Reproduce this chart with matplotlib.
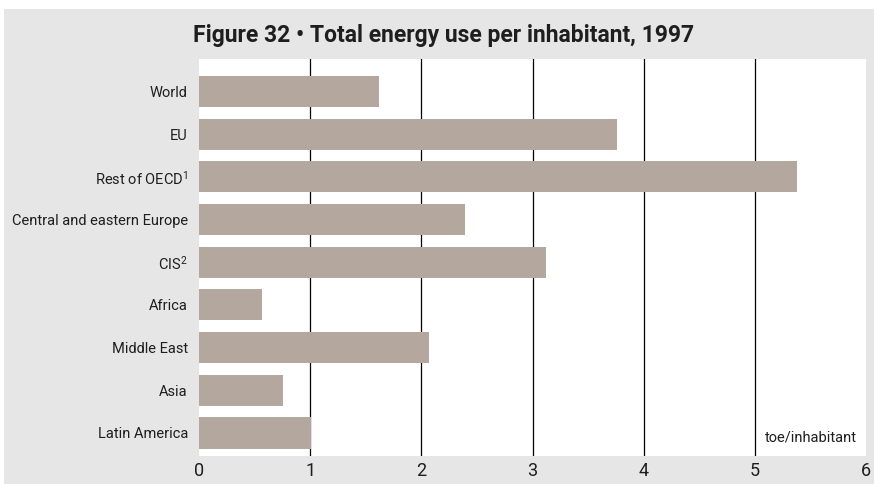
import matplotlib
matplotlib.use("Agg")
import matplotlib.pyplot as plt
from matplotlib.patches import Rectangle

plt.rcParams['font.family'] = ['Roboto', 'DejaVu Sans']
plt.rcParams['mathtext.default'] = 'regular'

regions = ["World", "EU", "Rest of OECD$^{1}$", "Central and eastern Europe",
           "CIS$^{2}$", "Africa", "Middle East", "Asia", "Latin America"]
toe_per_inhabitant = [1.62, 3.76, 5.38, 2.39, 3.12, 0.57, 2.07, 0.76, 1.01]
x_ticks = [0, 1, 2, 3, 4, 5, 6]

BAR_COLOR = "#b3a79e"
PANEL = "#e6e6e6"
TEXT = "#1e1e1e"

fig = plt.figure(figsize=(8.74, 4.84), dpi=100)
fig.patch.set_facecolor("white")
# grey panel behind everything
fig.patches.append(Rectangle((4 / 874, 0), 1, 1 - 9 / 484, transform=fig.transFigure,
                             facecolor=PANEL, edgecolor="none", zorder=-10))

ax = fig.add_axes([199 / 874, 1 - 456 / 484, 667 / 874, 397 / 484])
ax.set_facecolor("white")

ypos = list(range(len(regions)))
ax.barh(ypos, toe_per_inhabitant, height=0.73, color=BAR_COLOR, zorder=3)

ax.set_xlim(0, 6)
ax.set_ylim(len(regions) - 0.46, -0.76)
ax.set_xticks(x_ticks)
ax.set_xticklabels([str(t) for t in x_ticks], fontsize=13)
ax.set_yticks(ypos)
ax.set_yticklabels(regions, fontsize=10.5)
ax.tick_params(length=0, pad=8, colors=TEXT)
ax.tick_params(axis="x", pad=4)

for t in x_ticks[1:-1]:
    ax.axvline(t, color="black", lw=0.9, zorder=1)

for s in ax.spines.values():
    s.set_visible(False)

ax.text(0.987, 0.03, "toe/inhabitant", transform=ax.transAxes, ha="right", va="bottom",
        fontsize=10.5, color=TEXT)

fig.text(444 / 874, 1 - 42 / 484, "Figure 32 \u2022 Total energy use per inhabitant, 1997",
         ha="center", va="baseline", fontsize=16.5, fontweight="bold", color=TEXT)

fig.savefig("out.png", dpi=100)
